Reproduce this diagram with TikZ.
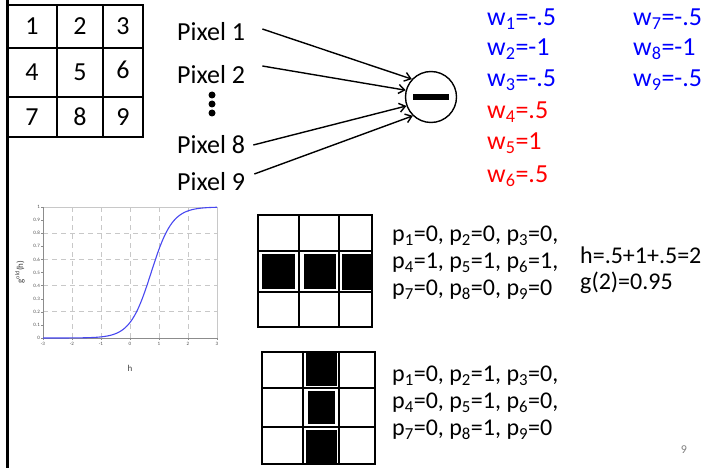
\documentclass[tikz,border=0pt]{standalone}
\usepackage{fontspec}
\setmainfont{Carlito}
\usepackage{tikz}
\usetikzlibrary{positioning,arrows.meta}
\definecolor{wblue}{HTML}{0000FF}
\definecolor{wred}{HTML}{FF0000}
\definecolor{plotgray}{HTML}{C8C8C8}
\definecolor{axisgray}{HTML}{8C8C8C}
\definecolor{curveblue}{HTML}{4848F0}
\newcommand{\ix}[1]{\textsubscript{#1}}

\begin{document}
\begin{tikzpicture}[x=1pt,y=-1pt,
    big/.style={font=\fontsize{26}{30}\selectfont,inner sep=0pt},
    ptxt/.style={font=\fontsize{24}{28}\selectfont,anchor=west,inner sep=0pt},
    wlab/.style={font=\fontsize{26}{30}\selectfont,anchor=west,inner sep=0pt},
    tick/.style={font=\fontsize{5}{6}\selectfont,text=black!70,inner sep=1pt},
    edge/.style={line width=1.4pt,-{Straight Barb[length=6pt,width=9pt]}},
    cellline/.style={line width=1.6pt},
    gridline/.style={plotgray,line width=0.9pt,dash pattern=on 5pt off 4pt}]
  \useasboundingbox (0,0) rectangle (706,468);
  \draw[line width=3pt] (7,0) -- (7,468);
  % --- numbered pixel grid ---
  \draw[cellline] (8,5) rectangle (143,137);
  \draw[cellline] (57,5) -- (57,137) (103,5) -- (103,137) (8,48) -- (143,48) (8,97) -- (143,97);
  \foreach \n/\x/\y in {1/32/26,2/80/26,3/123/26,4/32/72,5/80/72,6/123/70,7/32/117,8/80/117,9/123/117}{
    \node[big] (c\n) at (\x,\y) {\n};
  }
  % --- inputs into the unit ---
  \node[big,anchor=west] (pix1) at (177,32) {Pixel 1};
  \node[big,anchor=west] (pix2) at (177,75) {Pixel 2};
  \node[big,anchor=west] (pix8) at (177,145) {Pixel 8};
  \node[big,anchor=west] (pix9) at (177,182) {Pixel 9};
  \foreach \i/\y in {1/95,2/104,3/113}{
    \node[circle,fill,inner sep=0pt,minimum size=7pt] (dot\i) at (212,\y) {};
  }
  \node[circle,draw,line width=1.4pt,minimum size=51pt,inner sep=0pt] (neur) at (431,97) {};
  \fill ([xshift=-18pt,yshift=-3pt]neur.center) rectangle ([xshift=18pt,yshift=3pt]neur.center);
  \draw[edge] ([xshift=17pt,yshift=3pt]pix1.east) -- (neur.137);
  \draw[edge] ([xshift=17pt,yshift=9pt]pix2.east) -- (neur.165);
  \draw[edge] ([xshift=8pt]pix8.east) -- (neur.200);
  \draw[edge] ([xshift=9pt,yshift=8pt]pix9.east) -- (neur.226);
  % --- weights ---
  \foreach \k/\v/\y in {1/-.5/19,2/-1/49,3/-.5/80}{
    \node[wlab,text=wblue] (w\k) at (487,\y) {w\ix{\k}=\v};
  }
  \foreach \k/\v/\y in {4/.5/112,5/1/143,6/.5/176}{
    \node[wlab,text=wred] (w\k) at (487,\y) {w\ix{\k}=\v};
  }
  \foreach \k/\v/\y in {7/-.5/19,8/-1/49,9/-.5/80}{
    \node[wlab,text=wblue] (w\k) at (633,\y) {w\ix{\k}=\v};
  }
  % --- sigmoid plot ---
  \foreach \h in {-2,...,2}{\draw[gridline] ({130+29*\h},207) -- ({130+29*\h},338);}
  \foreach \v in {0.2,0.4,0.6,0.8}{\draw[gridline] (43,{338-131*\v}) -- (217,{338-131*\v});}
  \draw[plotgray,line width=0.8pt] (43,207) -- (217,207) -- (217,338);
  \draw[axisgray,line width=0.6pt] (43,207) -- (43,338) -- (217,338);
  \foreach \v/\l in {0/0,1/0.1,2/0.2,3/0.3,4/0.4,5/0.5,6/0.6,7/0.7,8/0.8,9/0.9,10/1}{
    \draw[axisgray,line width=0.4pt] (41,{338-13.1*\v}) -- (43,{338-13.1*\v});
    \node[tick,anchor=east] (yt\v) at (41,{338-13.1*\v}) {\l};
  }
  \foreach \h in {-3,...,3}{
    \draw[axisgray,line width=0.4pt] ({130+29*\h},338) -- ({130+29*\h},340);
    \node[tick,anchor=north] (xt\h) at ({130+29*\h},341) {\h};
  }
  \draw[curveblue,line width=1.1pt] plot[domain=-3:3,samples=90,smooth]
    ({130+29*\x},{338-131*0.5*(1+tanh(1.375*(\x-0.73)))});
  \node[font=\fontsize{9}{10}\selectfont,text=black!75] (hlab) at (130,368) {h};
  \node[font=\fontsize{9}{10}\selectfont,text=black!75,rotate=90] (glab) at (20,272) {g\textsuperscript{old}(h)};
  % --- horizontal bar ---
  \fill (262,254) rectangle (295,289);
  \fill (304,254) rectangle (336,289);
  \fill (342,254) rectangle (372,290);
  \draw[cellline] (258,215) rectangle (372,327);
  \draw[cellline] (299,215) -- (299,327) (339,215) -- (339,327) (258,251) -- (372,251) (258,292) -- (372,292);
  \node[ptxt] (pa1) at (392,236) {p\ix{1}=0, p\ix{2}=0, p\ix{3}=0,};
  \node[ptxt] (pa2) at (392,263) {p\ix{4}=1, p\ix{5}=1, p\ix{6}=1,};
  \node[ptxt] (pa3) at (392,290) {p\ix{7}=0, p\ix{8}=0, p\ix{9}=0};
  \node[ptxt] (hsum) at (580,255) {h=.5+1+.5=2};
  \node[ptxt] (gval) at (580,283) {g(2)=0.95};
  % --- vertical bar ---
  \fill (306,352) rectangle (337,386);
  \fill (308,391) rectangle (335,424);
  \fill (306,430) rectangle (337,464);
  \draw[cellline] (262,352) rectangle (375,464);
  \draw[cellline] (303,352) -- (303,464) (339,352) -- (339,464) (262,388) -- (375,388) (262,427) -- (375,427);
  \node[ptxt] (pb1) at (392,376) {p\ix{1}=0, p\ix{2}=1, p\ix{3}=0,};
  \node[ptxt] (pb2) at (392,403) {p\ix{4}=0, p\ix{5}=1, p\ix{6}=0,};
  \node[ptxt] (pb3) at (392,430) {p\ix{7}=0, p\ix{8}=1, p\ix{9}=0};
  \node[font=\fontsize{12}{13}\selectfont,text=black!50] (pgno) at (684,450) {9};
\end{tikzpicture}
\end{document}
